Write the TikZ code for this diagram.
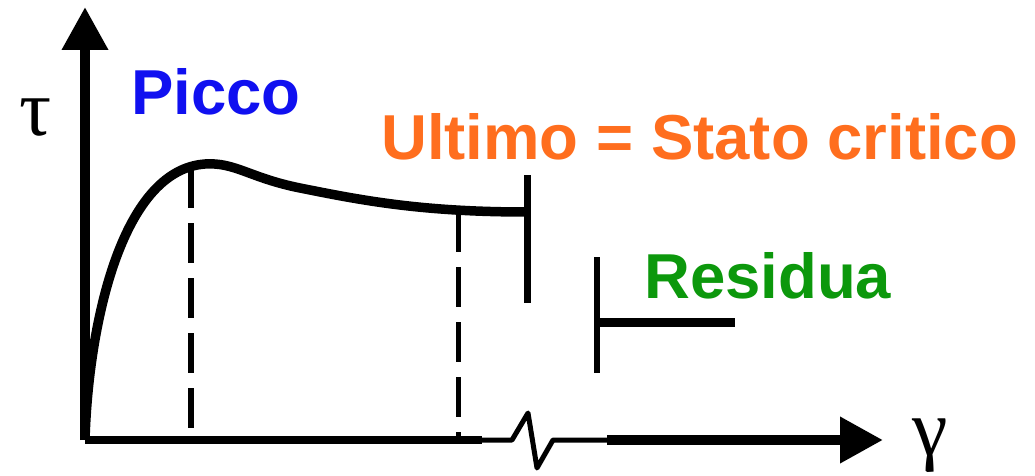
\documentclass[tikz,border=0pt]{standalone}
\usepackage{fontspec}
\setmainfont{Liberation Sans}
\newfontfamily\greekfont{Liberation Serif}
\usetikzlibrary{arrows.meta}
\definecolor{peakblue}{RGB}{16,16,240}
\definecolor{ultorange}{RGB}{255,110,30}
\definecolor{resgreen}{RGB}{12,152,12}
\tikzset{
  axisline/.style={line width=#1, line cap=butt},
  curveline/.style={line width=9.5pt, line join=round},
  markbar/.style={line width=7pt},
  guide/.style={line width=6pt, dash pattern=on 40pt off 15pt},
  label/.style={font=\bfseries\fontsize{63.5}{63.5}\selectfont, inner sep=0pt},
  symb/.style={font=\greekfont\fontsize{80}{80}\selectfont, inner sep=0pt},
}
\begin{document}
\begin{tikzpicture}[x=1pt,y=-1pt]
\useasboundingbox (0,0) rectangle (1035,476);

% axes
\coordinate (O) at (85,440);
\coordinate (ytop) at (85,7);
\coordinate (xa) at (512,440);
\coordinate (z1) at (528,413);
\coordinate (z2) at (537,468);
\coordinate (xb) at (553,440);
\coordinate (xc) at (607,440);
\coordinate (xend) at (883,440);
\draw[axisline=10pt, -{Triangle[length=43pt,width=44pt]}] (O) -- (ytop);
\draw[axisline=8pt] (O) -- (482,440);
\draw[line width=5pt, line join=round] (482,440) -- (xa) -- (z1) -- (z2) -- (xb) -- (xc);
\draw[axisline=10pt, -{Triangle[length=43pt,width=44pt]}] (xc) -- (xend);

% stress-strain curve
\coordinate (peak) at (205,164);
\coordinate (ult) at (527,212);
\draw[curveline] (O) .. controls (88,330) and (120,170) .. (peak)
  .. controls (235,162) and (250,178) .. (300,188)
  .. controls (360,200) and (420,212) .. (ult);

% ultimate (critical state) end bar
\coordinate (ultA) at (527,175);
\coordinate (ultB) at (527,303);
\draw[markbar] (ultA) -- (ultB);

% residual branch
\coordinate (resA) at (597,257);
\coordinate (resB) at (597,373);
\coordinate (resC) at (597,322);
\coordinate (resD) at (735,322);
\draw[line width=6pt] (resA) -- (resB);
\draw[line width=9pt] (resC) -- (resD);

% dashed guides
\coordinate (g1top) at (191,168);
\coordinate (g1bot) at (191,430);
\coordinate (g2top) at (458,212);
\coordinate (g2bot) at (458,437);
\draw[guide] (g1top) -- (g1bot);
\draw[guide, line width=5pt] (g2top) -- (g2bot);

% labels
\node[symb] (tau) at (36,118) {τ};
\node[symb] (gamma) at (930,446) {γ};
\node[label, text=peakblue, anchor=base west] (picco) at (131,115) {Picco};
\node[label, text=ultorange, anchor=base west] (ultimo) at (381,159) {Ultimo = Stato critico};
\node[label, text=resgreen, anchor=base west] (residua) at (644,298) {Residua};
\end{tikzpicture}
\end{document}
